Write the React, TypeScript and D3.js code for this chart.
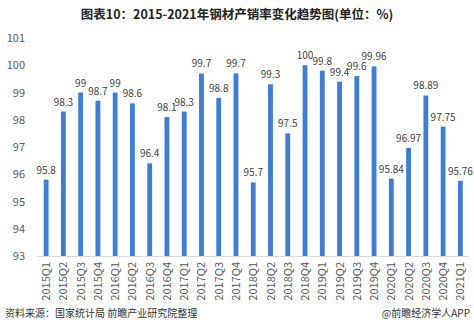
import React from "react";
import * as d3 from "d3";

const categories = [
  "2015Q1","2015Q2","2015Q3","2015Q4",
  "2016Q1","2016Q2","2016Q3","2016Q4",
  "2017Q1","2017Q2","2017Q3","2017Q4",
  "2018Q1","2018Q2","2018Q3","2018Q4",
  "2019Q1","2019Q2","2019Q3","2019Q4",
  "2020Q1","2020Q2","2020Q3","2020Q4",
  "2021Q1",
];
const values = [
  95.8, 98.3, 99, 98.7,
  99, 98.6, 96.4, 98.1,
  98.3, 99.7, 98.8, 99.7,
  95.7, 99.3, 97.5, 100,
  99.8, 99.4, 99.6, 99.96,
  95.84, 96.97, 98.89, 97.75,
  95.76,
];
const labels = [
  "95.8","98.3","99","98.7",
  "99","98.6","96.4","98.1",
  "98.3","99.7","98.8","99.7",
  "95.7","99.3","97.5","100",
  "99.8","99.4","99.6","99.96",
  "95.84","96.97","98.89","97.75",
  "95.76",
];
const yTicks = [93, 94, 95, 96, 97, 98, 99, 100, 101];
const title = "图表10：2015-2021年钢材产销率变化趋势图(单位：%)";
const source = "资料来源：国家统计局 前瞻产业研究院整理";
const credit = "@前瞻经济学人APP";

const W = 474, H = 327;
const FONT = "'Noto Sans CJK SC', 'Noto Sans', sans-serif";

export default function App() {
  const x = d3.scaleBand<string>().domain(categories).range([37.5, 469]).paddingInner(0.72).paddingOuter(0.36);
  const y = d3.scaleLinear().domain([93, 101]).range([256, 38]);
  return (
    <svg width={W} height={H} style={{ position: "absolute", left: 0, top: 0, background: "#fff" }}>
      <text x={237} y={19} textAnchor="middle" fontFamily={FONT} fontWeight="bold" fontSize={12.5} fill="#222">{title}</text>
      {yTicks.map((t) => (
        <text key={t} x={25} y={y(t) + 4} textAnchor="end" fontFamily={FONT} fontSize={11} fill="#595959">{t}</text>
      ))}
      {categories.map((c, i) => (
        <rect key={c} x={x(c)} y={y(values[i])} width={x.bandwidth()} height={y(93) - y(values[i])} fill="#3b7dd8" />
      ))}
      {categories.map((c, i) => (
        <text key={"l" + c} x={(x(c) as number) + x.bandwidth() / 2} y={y(values[i]) - 6} textAnchor="middle" fontFamily={FONT} fontSize={10} fill="#404040">{labels[i]}</text>
      ))}
      <line x1={37.5} x2={469} y1={256.5} y2={256.5} stroke="#d9d9d9" />
      {categories.map((c) => {
        const cx = (x(c) as number) + x.bandwidth() / 2;
        return (
          <text key={"t" + c} transform={`translate(${cx + 4},262) rotate(-90)`} textAnchor="end" fontFamily={FONT} fontSize={11} fill="#595959">{c}</text>
        );
      })}
      <text x={5} y={317} fontFamily={FONT} fontSize={10} fill="#333">{source}</text>
      <text x={470} y={317} textAnchor="end" fontFamily={FONT} fontSize={10} fill="#333">{credit}</text>
    </svg>
  );
}
